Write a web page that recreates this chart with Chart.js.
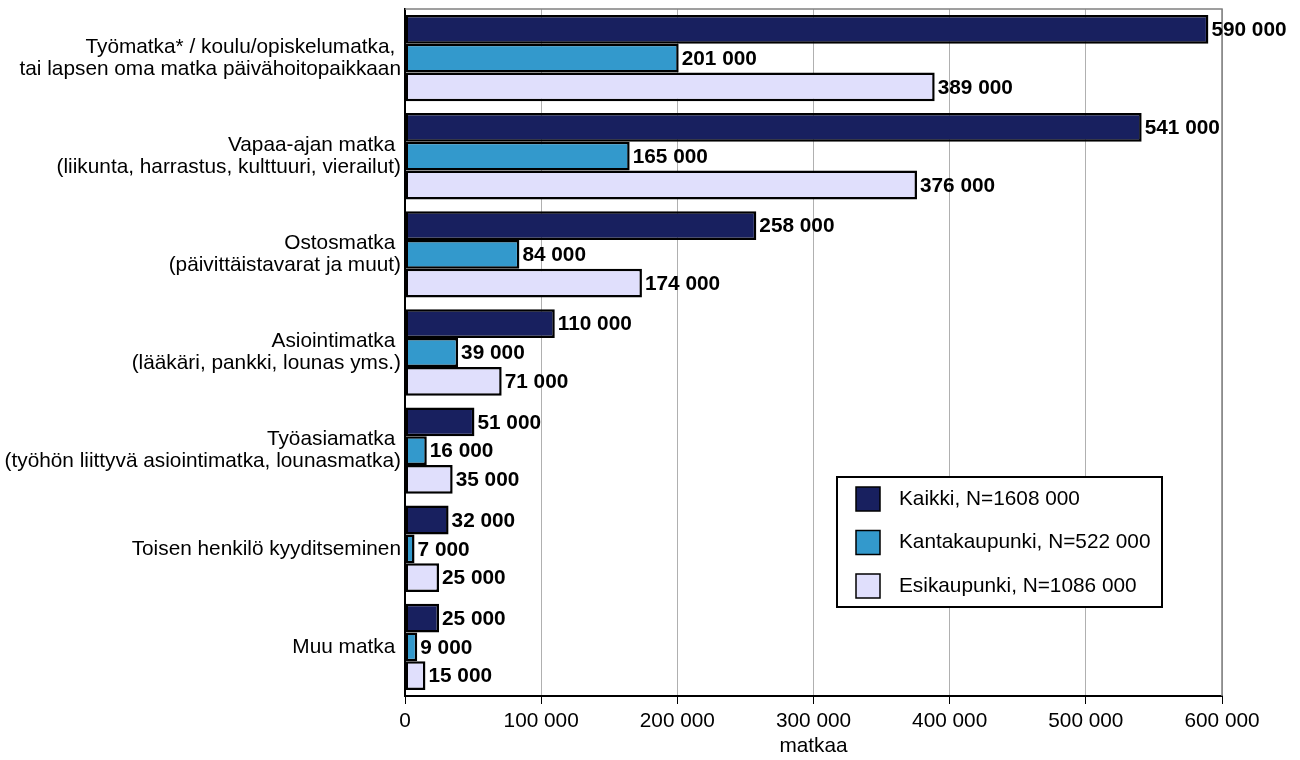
<!DOCTYPE html>
<html>
<head>
<meta charset="utf-8">
<script src="https://cdn.jsdelivr.net/npm/chart.js@4/dist/chart.umd.min.js"></script>
<style>
  html,body{margin:0;padding:0;background:#fff;}
  #wrap{width:1300px;height:760px;position:relative;}
</style>
</head>
<body>
<div id="wrap"><canvas id="kaavio" width="1300" height="760"></canvas></div>
<script>
// Matkan tarkoitus - kategoriat
const kategoriat = [
  ['Työmatka* / koulu/opiskelumatka, ', 'tai lapsen oma matka päivähoitopaikkaan'],
  ['Vapaa-ajan matka ', '(liikunta, harrastus, kulttuuri, vierailut)'],
  ['Ostosmatka ', '(päivittäistavarat ja muut)'],
  ['Asiointimatka ', '(lääkäri, pankki, lounas yms.)'],
  ['Työasiamatka ', '(työhön liittyvä asiointimatka, lounasmatka)'],
  'Toisen henkilö kyyditseminen',
  'Muu matka '
];
const kaikki = [590000, 541000, 258000, 110000, 51000, 32000, 25000];
const kantakaupunki = [201000, 165000, 84000, 39000, 16000, 7000, 9000];
const esikaupunki = [389000, 376000, 174000, 71000, 35000, 25000, 15000];
const sarjat = ['Kaikki, N=1608 000', 'Kantakaupunki, N=522 000', 'Esikaupunki, N=1086 000'];
const xTicks = [0, 100000, 200000, 300000, 400000, 500000, 600000];

const FONTTI = 'Arial, "Liberation Sans", sans-serif';
const KOKO = 20.8;
const fmt = v => String(v).replace(/\B(?=(\d{3})+(?!\d))/g, ' ');

// Arvot palkkien perään
const arvoPlugin = {
  id: 'arvot',
  afterDatasetsDraw(chart){
    const ctx = chart.ctx;
    ctx.save();
    ctx.font = 'bold ' + KOKO + 'px ' + FONTTI;
    ctx.fillStyle = '#000';
    ctx.textBaseline = 'middle';
    ctx.textAlign = 'left';
    chart.data.datasets.forEach((ds, i) => {
      chart.getDatasetMeta(i).data.forEach((bar, j) => {
        ctx.fillText(fmt(ds.data[j]), bar.x + 3, bar.y + 1);
      });
    });
    ctx.restore();
  }
};

// Kehys ylä- ja oikeaan reunaan + selite
const kehysPlugin = {
  id: 'kehys',
  beforeDatasetsDraw(chart){
    const {ctx, chartArea:a} = chart;
    ctx.save();
    ctx.strokeStyle = '#808080';
    ctx.lineWidth = 1.5;
    ctx.beginPath();
    ctx.moveTo(a.left, a.top); ctx.lineTo(a.right, a.top); ctx.lineTo(a.right, a.bottom);
    ctx.stroke();
    ctx.restore();
  },
  afterDraw(chart){
    const ctx = chart.ctx;
    const x0 = 837, y0 = 477, w = 325, h = 130;
    ctx.save();
    ctx.fillStyle = '#fff';
    ctx.fillRect(x0, y0, w, h);
    ctx.strokeStyle = '#000';
    ctx.lineWidth = 2;
    ctx.strokeRect(x0, y0, w, h);
    ctx.font = KOKO + 'px ' + FONTTI;
    ctx.textBaseline = 'middle';
    chart.data.datasets.forEach((ds, i) => {
      const yy = y0 + 22 + i * 43.5;
      ctx.fillStyle = ds.backgroundColor;
      ctx.fillRect(856, yy - 12, 24, 24);
      ctx.lineWidth = 1.5;
      ctx.strokeRect(856, yy - 12, 24, 24);
      ctx.fillStyle = '#000';
      ctx.fillText(ds.label, 899, yy);
    });
    ctx.restore();
  }
};

const yhteinen = {borderColor: '#000', borderWidth: 2.5, borderSkipped: false, categoryPercentage: 0.88, barPercentage: 1.0};

new Chart(document.getElementById('kaavio').getContext('2d'), {
  type: 'bar',
  data: {
    labels: kategoriat,
    datasets: [
      Object.assign({label: sarjat[0], data: kaikki, backgroundColor: '#18205f'}, yhteinen),
      Object.assign({label: sarjat[1], data: kantakaupunki, backgroundColor: '#3399cc'}, yhteinen),
      Object.assign({label: sarjat[2], data: esikaupunki, backgroundColor: '#e0dffc'}, yhteinen)
    ]
  },
  options: {
    indexAxis: 'y',
    responsive: false,
    animation: false,
    devicePixelRatio: 1,
    layout: {padding: {left: 0, right: 78, top: 9, bottom: 0}},
    plugins: {legend: {display: false}, tooltip: {enabled: false}},
    scales: {
      x: {
        min: 0, max: 600000,
        afterBuildTicks(scale){ scale.ticks = xTicks.map(v => ({value: v})); },
        afterFit(scale){ scale.height = 64; },
        ticks: {color: '#000', font: {size: KOKO, family: FONTTI}, padding: 5, callback: v => fmt(v)},
        grid: {color: '#b0b0b0', lineWidth: 1, tickColor: '#000', tickLength: 8},
        border: {color: '#000', width: 2},
        title: {display: true, text: 'matkaa', color: '#000', font: {size: KOKO, family: FONTTI}, padding: {top: 0, bottom: 1}}
      },
      y: {
        afterFit(scale){ scale.width = 405; scale.paddingTop = 0; scale.paddingBottom = 0; },
        ticks: {color: '#000', font: {size: KOKO, family: FONTTI, lineHeight: 1.06}, padding: 4},
        grid: {display: false, drawTicks: false},
        border: {color: '#000', width: 2}
      }
    }
  },
  plugins: [arvoPlugin, kehysPlugin]
});
</script>
</body>
</html>
